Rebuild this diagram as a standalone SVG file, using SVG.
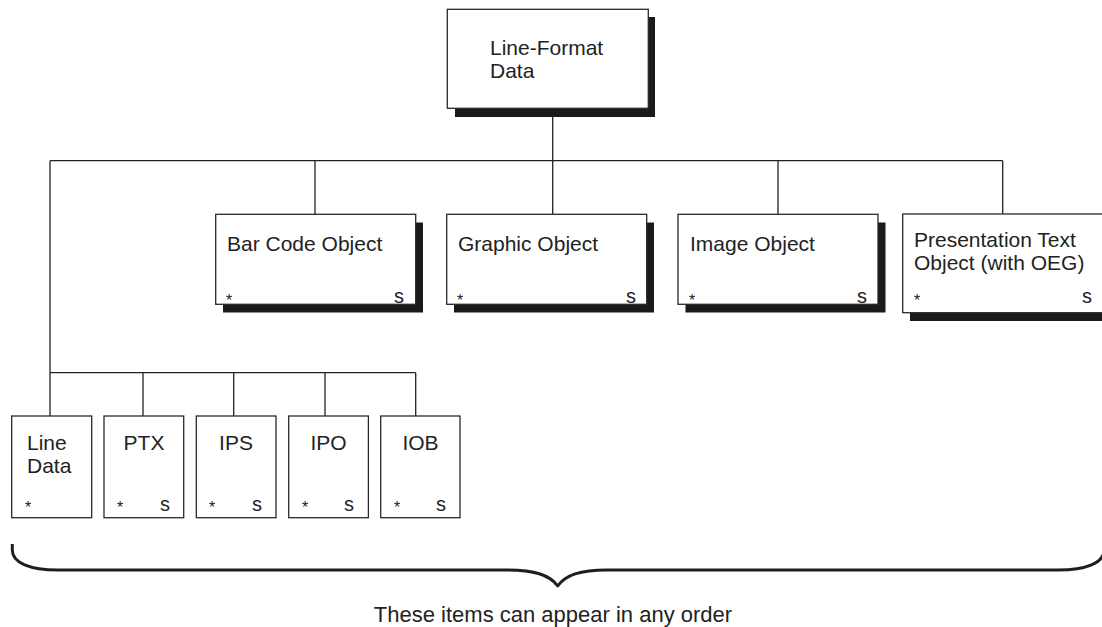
<svg xmlns="http://www.w3.org/2000/svg" width="1102" height="627" viewBox="0 0 1102 627">
<style>
.box{fill:#fff;stroke:#2a2a2a;stroke-width:1.3}
.sh{fill:#1a1a1a}
.t{font-family:"Liberation Sans",Arial,Helvetica,sans-serif;font-size:21px;fill:#222}
.m{text-anchor:middle}
.a{font-family:"Liberation Sans",Arial,Helvetica,sans-serif;font-size:16px;fill:#222}
.s{font-family:"Liberation Sans",Arial,Helvetica,sans-serif;font-size:20px;fill:#222}
.c{fill:none;stroke:#222;stroke-width:1.3}
.br{fill:none;stroke:#1e1e1e;stroke-width:3;stroke-linejoin:round}
</style>
<rect width="1102" height="627" fill="#fff"/>
<g id="connectors">
<path class="c" d="M552.7,108 V160.7 M50,160.7 H1002.7 M315,160.7 V214 M552.7,160.7 V214 M778,160.7 V214 M1002.7,160.7 V214 M50,160.7 V416 M50,372.7 H415.7 M143,372.7 V416 M233.7,372.7 V416 M325,372.7 V416 M415.7,372.7 V416"/>
</g>
<g id="root">
<rect class="sh" x="455" y="17" width="200" height="100"/>
<rect class="box" x="447.3" y="9.3" width="201" height="99"/>
<text class="t" x="490" y="55">Line-Format</text>
<text class="t" x="490" y="78">Data</text>
</g>
<g id="barcode">
<rect class="sh" x="223" y="222.5" width="200" height="90"/>
<rect class="box" x="215.7" y="214.3" width="200" height="90"/>
<text class="t" x="227" y="251">Bar Code Object</text>
<text class="a" x="226" y="306">*</text>
<text class="s" x="404" y="303" text-anchor="end">s</text>
</g>
<g id="graphic">
<rect class="sh" x="454" y="222.5" width="200" height="90"/>
<rect class="box" x="446.7" y="214.3" width="200" height="90"/>
<text class="t" x="458" y="251">Graphic Object</text>
<text class="a" x="457" y="306">*</text>
<text class="s" x="636" y="303" text-anchor="end">s</text>
</g>
<g id="image">
<rect class="sh" x="685.5" y="222.5" width="200" height="90"/>
<rect class="box" x="678" y="214.3" width="200" height="90"/>
<text class="t" x="690" y="251">Image Object</text>
<text class="a" x="689" y="306">*</text>
<text class="s" x="867" y="303" text-anchor="end">s</text>
</g>
<g id="presentation">
<rect class="sh" x="910" y="221" width="200" height="100"/>
<rect class="box" x="902.7" y="214" width="202" height="98.7"/>
<text class="t" x="914" y="247">Presentation Text</text>
<text class="t" x="914" y="270">Object (with OEG)</text>
<text class="a" x="914" y="306">*</text>
<text class="s" x="1092" y="303" text-anchor="end">s</text>
</g>
<g id="linedata">
<rect class="box" x="11.7" y="416" width="80" height="101.7"/>
<text class="t" x="27" y="450">Line</text>
<text class="t" x="27" y="473">Data</text>
<text class="a" x="25" y="513">*</text>
</g>
<g id="ptx">
<rect class="box" x="104" y="416" width="79.7" height="101.7"/>
<text class="t m" x="144" y="450">PTX</text>
<text class="a" x="117" y="513">*</text>
<text class="s" x="170" y="511" text-anchor="end">s</text>
</g>
<g id="ips">
<rect class="box" x="196.3" y="416" width="79.7" height="101.7"/>
<text class="t m" x="236" y="450">IPS</text>
<text class="a" x="209" y="513">*</text>
<text class="s" x="262" y="511" text-anchor="end">s</text>
</g>
<g id="ipo">
<rect class="box" x="288.7" y="416" width="79.7" height="101.7"/>
<text class="t m" x="328.5" y="450">IPO</text>
<text class="a" x="302" y="513">*</text>
<text class="s" x="354" y="511" text-anchor="end">s</text>
</g>
<g id="iob">
<rect class="box" x="380.7" y="416" width="79.3" height="101.7"/>
<text class="t m" x="420.5" y="450">IOB</text>
<text class="a" x="394" y="513">*</text>
<text class="s" x="446" y="511" text-anchor="end">s</text>
</g>
<g id="brace">
<path class="br" d="M12.3,544 V550 C12.3,563 30,570 58,570 H508 C535,570 550,575 557.7,586 C565.5,575 580,570 607,570 H1058 C1086,570 1104,563 1104,550 V544"/>
<text class="t m" x="553" y="622" style="font-size:22px">These items can appear in any order</text>
</g>
</svg>
